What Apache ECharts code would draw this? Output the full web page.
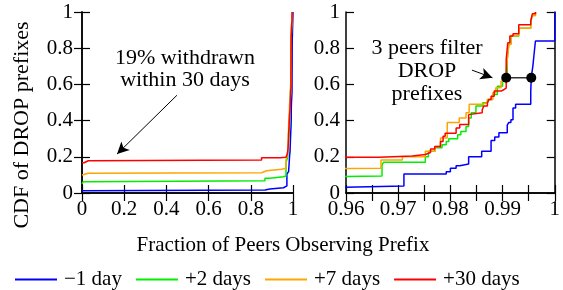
<!DOCTYPE html>
<html>
<head>
<meta charset="utf-8">
<script src="https://cdn.jsdelivr.net/npm/echarts@6/dist/echarts.min.js"></script>
<style>
  html, body { margin: 0; padding: 0; background: #fff; }
  #chart { width: 563px; height: 290px; }
</style>
</head>
<body>
<div id="chart"></div>
<script>
// series names / legend
var names = ['\u22121 day', '+2 days', '+7 days', '+30 days'];
var colors = ['#0000ff', '#00ee00', '#ffa500', '#ff0000'];

// CDF steps [fraction of peers, cdf]
var minus1 = [[0, 0.013], [0.01, 0.017], [0.867, 0.022], [0.89, 0.029], [0.955, 0.039],
  [0.9711, 0.105], [0.9792, 0.118], [0.98, 0.137], [0.9811, 0.15], [0.9818, 0.16],
  [0.9835, 0.2], [0.986, 0.23], [0.9878, 0.29], [0.9885, 0.31], [0.9893, 0.333],
  [0.9909, 0.375], [0.9912, 0.39], [0.9916, 0.405], [0.992, 0.47], [0.9925, 0.49],
  [0.9954, 0.56], [0.9955, 0.64], [0.9958, 0.7], [0.996, 0.757], [0.9963, 0.84], [1, 1]];
var plus2 = [[0, 0.05], [0.005, 0.062], [0.03, 0.068], [0.867, 0.081], [0.891, 0.09], [0.954, 0.094],
  [0.9669, 0.155], [0.9672, 0.17], [0.9752, 0.2], [0.9758, 0.23], [0.977, 0.25], [0.9784, 0.267],
  [0.9792, 0.285], [0.9797, 0.3], [0.9814, 0.322], [0.982, 0.34], [0.983, 0.368], [0.9835, 0.415],
  [0.984, 0.443], [0.9849, 0.48], [0.9862, 0.498], [0.9871, 0.517], [0.9881, 0.544], [0.989, 0.59],
  [0.99, 0.628], [0.9909, 0.739], [0.9912, 0.822], [0.9916, 0.868], [0.9931, 0.91],
  [0.9954, 0.95], [0.9957, 0.98], [0.9963, 1]];
var plus7 = [[0, 0.1], [0.005, 0.109], [0.03, 0.112], [0.851, 0.123], [0.875, 0.131], [0.946, 0.137],
  [0.9667, 0.183], [0.9708, 0.2], [0.9752, 0.23], [0.9771, 0.257], [0.9781, 0.304], [0.9794, 0.39],
  [0.9817, 0.415], [0.983, 0.443], [0.9836, 0.49], [0.9861, 0.498], [0.9871, 0.517], [0.9881, 0.554],
  [0.9887, 0.582], [0.9897, 0.618], [0.9906, 0.637], [0.9909, 0.74], [0.9912, 0.82], [0.9916, 0.87],
  [0.9931, 0.91], [0.9954, 0.95], [0.9957, 0.98], [0.9963, 1]];
var plus30 = [[0, 0.167], [0.01, 0.178], [0.03, 0.182], [0.851, 0.195], [0.938, 0.198], [0.9664, 0.205],
  [0.9727, 0.213], [0.9752, 0.224], [0.9762, 0.243], [0.977, 0.257], [0.9781, 0.285], [0.9786, 0.313],
  [0.979, 0.33], [0.9811, 0.359], [0.9818, 0.378], [0.9835, 0.433], [0.9838, 0.443], [0.9861, 0.46],
  [0.9864, 0.48], [0.9871, 0.498], [0.9874, 0.517], [0.9878, 0.535], [0.9884, 0.563], [0.9897, 0.572],
  [0.9903, 0.58], [0.9907, 0.74], [0.991, 0.83], [0.9914, 0.868], [0.992, 0.88], [0.9931, 0.93],
  [0.9954, 0.95], [0.9957, 0.99], [0.9963, 1]];
var allData = [minus1, plus2, plus7, plus30];

// the 3 filtering peers
var dropPoints = [[0.9907, 0.637], [0.9955, 0.637]];

var leftTicks = { min: 0, max: 1, interval: 0.2 };
var rightTicks = { min: 0.96, max: 1, interval: 0.01 };

var FONT = 'Liberation Serif';
var FS = 21;

var chart = echarts.init(document.getElementById('chart'));

function xAx(grid, t, pos, labels) {
  return {
    type: 'value', gridIndex: grid, position: pos, min: t.min, max: t.max, interval: t.interval,
    axisLine: { show: true, lineStyle: { color: '#000', width: 1.5 } },
    axisTick: { show: true, inside: true, length: 8, lineStyle: { color: '#000', width: 1.2 } },
    minorTick: { show: grid === 1, splitNumber: 2, length: 8, lineStyle: { color: '#000', width: 1.2 } },
    axisLabel: { show: labels, margin: 6, color: '#000', fontFamily: FONT, fontSize: FS },
    splitLine: { show: false }
  };
}
function yAx(grid, pos, labels, margin) {
  return {
    type: 'value', gridIndex: grid, position: pos, min: 0, max: 1, interval: 0.2,
    axisLine: { show: true, lineStyle: { color: '#000', width: 1.5 } },
    axisTick: { show: true, inside: true, length: 8, lineStyle: { color: '#000', width: 1.2 } },
    axisLabel: { show: labels, margin: margin, color: '#000', fontFamily: FONT, fontSize: FS },
    splitLine: { show: false }
  };
}

var series = [];
[0, 1].forEach(function (g) {
  allData.forEach(function (d, i) {
    series.push({
      name: names[i], type: 'line', step: 'end', xAxisIndex: g * 2, yAxisIndex: g * 2,
      data: d, showSymbol: false, symbol: 'none', clip: true,
      lineStyle: { color: colors[i], width: 1.5 }, itemStyle: { color: colors[i] }
    });
  });
});

// arrow on left panel
series[3].markLine = {
  silent: true, symbol: ['none', 'arrow'], symbolSize: [9, 12],
  label: { show: false },
  lineStyle: { color: '#000', width: 1, type: 'solid' },
  data: [[{ coord: [0.45, 0.54] }, { coord: [0.166, 0.215] }]]
};

series.push({
  name: 'drop', type: 'line', xAxisIndex: 2, yAxisIndex: 2, data: dropPoints,
  symbol: 'circle', symbolSize: 10, showSymbol: true,
  lineStyle: { color: '#333', width: 1.5 }, itemStyle: { color: '#000' },
  markLine: {
    silent: true, symbol: ['none', 'arrow'], symbolSize: [9, 12],
    label: { show: false },
    lineStyle: { color: '#000', width: 1, type: 'solid' },
    data: [[{ coord: [0.98413, 0.679] }, { coord: [0.98806, 0.637] }]]
  }
});

var option = {
  animation: false,
  backgroundColor: '#fff',
  textStyle: { fontFamily: FONT },
  grid: [
    { left: 82, top: 12, width: 211, height: 181 },
    { left: 346, top: 12, width: 210, height: 181 }
  ],
  xAxis: [
    xAx(0, leftTicks, 'bottom', true), xAx(0, leftTicks, 'top', false),
    xAx(1, rightTicks, 'bottom', true), xAx(1, rightTicks, 'top', false)
  ],
  yAxis: [
    yAx(0, 'left', true, 9), yAx(0, 'right', false, 0),
    yAx(1, 'left', true, 6), yAx(1, 'right', false, 0)
  ],
  legend: {
    data: names, left: 10, top: 264, itemWidth: 42, itemHeight: 2, itemGap: 14,
    icon: 'rect', selectedMode: false,
    textStyle: { color: '#000', fontFamily: FONT, fontSize: FS, padding: [0, 0, 0, 2] }
  },
  graphic: [
    { type: 'text', x: 22, y: 125, rotation: Math.PI / 2,
      style: { text: 'CDF of DROP prefixes', font: '22px ' + FONT, fill: '#000', align: 'center', verticalAlign: 'middle' } },
    { type: 'text', x: 283, y: 245,
      style: { text: 'Fraction of Peers Observing Prefix', font: FS + 'px ' + FONT, fill: '#000', align: 'center', verticalAlign: 'middle' } },
    { type: 'text', x: 185, y: 69,
      style: { text: '19% withdrawn\nwithin 30 days', font: '22px ' + FONT, lineHeight: 22, fill: '#000', align: 'center', verticalAlign: 'middle' } },
    { type: 'text', x: 427, y: 71,
      style: { text: '3 peers filter\nDROP\nprefixes', font: '22px ' + FONT, lineHeight: 23, fill: '#000', align: 'center', verticalAlign: 'middle' } }
  ],
  series: series
};

chart.setOption(option);
</script>
</body>
</html>
